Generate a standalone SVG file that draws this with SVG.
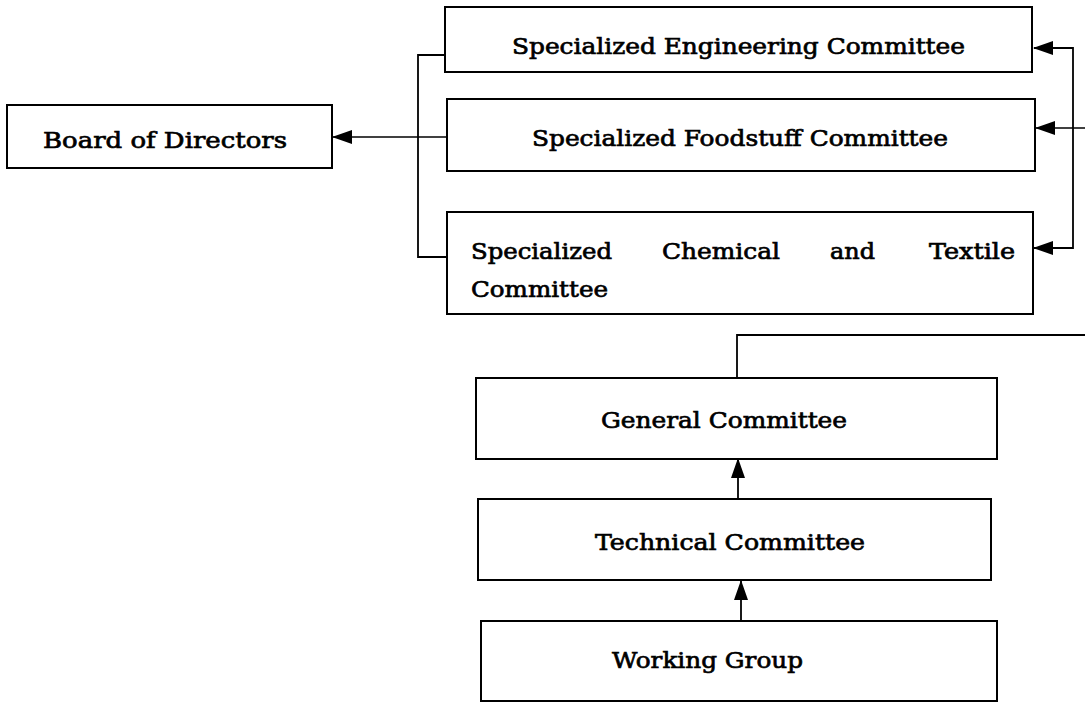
<svg xmlns="http://www.w3.org/2000/svg" width="1085" height="703" viewBox="0 0 1085 703">
<style>
  .box{fill:#fff;stroke:#000;stroke-width:2}
  .lbl{font-family:"DejaVu Serif","Liberation Serif",serif;font-size:23px;fill:#000;stroke:#000;stroke-width:0.7}
  .con{fill:none;stroke:#000;stroke-width:1.8}
  .thin{fill:none;stroke:#000;stroke-width:1.3}
</style>
<defs>
  <marker id="ah" markerWidth="20" markerHeight="16" refX="19" refY="8" orient="auto-start-reverse" markerUnits="userSpaceOnUse">
    <path d="M0,1 L20,8 L0,15 z" fill="#000"/>
  </marker>
</defs>
<rect width="1085" height="703" fill="#fff"/>
<g id="connectors">
  <path class="con" d="M445,55 H418 V257 H447"/>
  <path class="thin" d="M447,137 H333" marker-end="url(#ah)"/>
  <path class="con" d="M1034,48 H1073 V248 H1034" marker-start="url(#ah)" marker-end="url(#ah)"/>
  <path class="thin" d="M1085,128 H1036" marker-end="url(#ah)"/>
  <path class="con" d="M737,378 V335 H1085"/>
  <path class="con" d="M738,499 V459" marker-end="url(#ah)"/>
  <path class="con" d="M741,621 V581" marker-end="url(#ah)"/>
</g>
<g id="board">
  <rect class="box" x="7" y="105" width="325" height="63"/>
  <text class="lbl" x="43" y="148" textLength="244" lengthAdjust="spacingAndGlyphs">Board of Directors</text>
</g>
<g id="engineering">
  <rect class="box" x="445" y="7" width="587" height="65"/>
  <text class="lbl" x="512" y="54" textLength="453" lengthAdjust="spacingAndGlyphs">Specialized Engineering Committee</text>
</g>
<g id="foodstuff">
  <rect class="box" x="447" y="99" width="588" height="72"/>
  <text class="lbl" x="532" y="146" textLength="416" lengthAdjust="spacingAndGlyphs">Specialized Foodstuff Committee</text>
</g>
<g id="chemical">
  <rect class="box" x="447" y="212" width="586" height="102"/>
  <text class="lbl" x="471" y="259" textLength="141" lengthAdjust="spacingAndGlyphs">Specialized</text>
  <text class="lbl" x="662" y="259" textLength="118" lengthAdjust="spacingAndGlyphs">Chemical</text>
  <text class="lbl" x="830" y="259" textLength="45" lengthAdjust="spacingAndGlyphs">and</text>
  <text class="lbl" x="929" y="259" textLength="86" lengthAdjust="spacingAndGlyphs">Textile</text>
  <text class="lbl" x="471" y="297" textLength="137" lengthAdjust="spacingAndGlyphs">Committee</text>
</g>
<g id="general">
  <rect class="box" x="476" y="378" width="521" height="81"/>
  <text class="lbl" x="601" y="428" textLength="246" lengthAdjust="spacingAndGlyphs">General Committee</text>
</g>
<g id="technical">
  <rect class="box" x="478" y="499" width="513" height="81"/>
  <text class="lbl" x="595" y="550" textLength="270" lengthAdjust="spacingAndGlyphs">Technical Committee</text>
</g>
<g id="working">
  <rect class="box" x="481" y="621" width="516" height="80"/>
  <text class="lbl" x="612" y="668" textLength="191" lengthAdjust="spacingAndGlyphs">Working Group</text>
</g>
</svg>
